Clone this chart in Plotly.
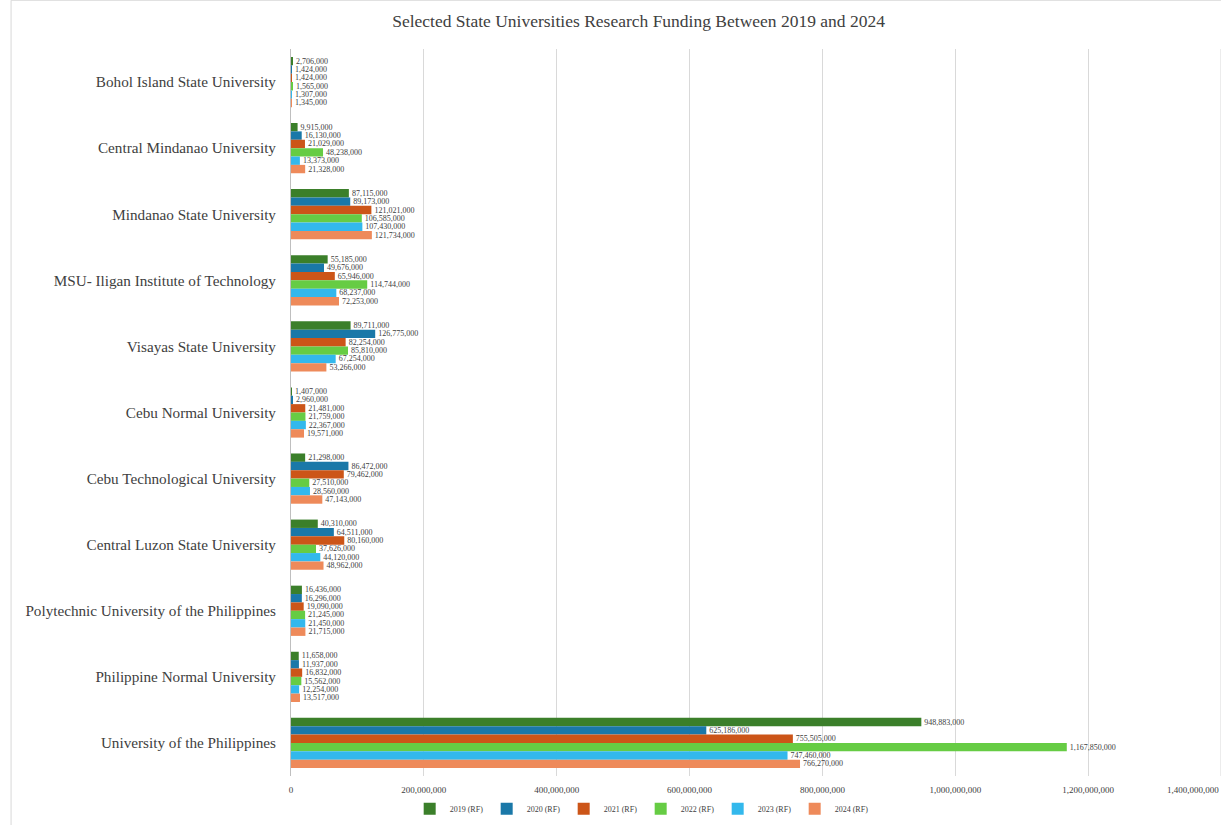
import plotly.graph_objects as go

universities = [
    "Bohol Island State University",
    "Central Mindanao University",
    "Mindanao State University",
    "MSU- Iligan Institute of Technology",
    "Visayas State University",
    "Cebu Normal University",
    "Cebu Technological University",
    "Central Luzon State University",
    "Polytechnic University of the Philippines",
    "Philippine Normal University",
    "University of the Philippines",
]

series_names = ["2019 (RF)", "2020 (RF)", "2021 (RF)", "2022 (RF)", "2023 (RF)", "2024 (RF)"]

funding_2019 = [2706000, 9915000, 87115000, 55185000, 89711000, 1407000, 21298000, 40310000, 16436000, 11658000, 948883000]
funding_2020 = [1424000, 16130000, 89173000, 49676000, 126775000, 2960000, 86472000, 64511000, 16296000, 11937000, 625186000]
funding_2021 = [1424000, 21029000, 121021000, 65946000, 82254000, 21481000, 79462000, 80160000, 19090000, 16832000, 755505000]
funding_2022 = [1565000, 48238000, 106585000, 114744000, 85810000, 21759000, 27510000, 37626000, 21245000, 15562000, 1167850000]
funding_2023 = [1307000, 13373000, 107430000, 68237000, 67254000, 22367000, 28560000, 44120000, 21450000, 12254000, 747460000]
funding_2024 = [1345000, 21328000, 121734000, 72253000, 53266000, 19571000, 47143000, 48962000, 21715000, 13517000, 766270000]

series_values = [funding_2019, funding_2020, funding_2021, funding_2022, funding_2023, funding_2024]
colors = ["#3b7f2a", "#1a78a8", "#cc5518", "#66cc44", "#33b8ec", "#ee8a5a"]

x_ticks = [0, 200000000, 400000000, 600000000, 800000000, 1000000000, 1200000000]
x_max = 1400000000

FONT = "Liberation Serif"
TXT = "#404040"

fig = go.Figure()
for name, vals, col in zip(series_names, series_values, colors):
    fig.add_trace(go.Bar(
        y=universities, x=vals, name=name, orientation="h",
        marker=dict(color=col, line=dict(width=0)),
        text=vals, texttemplate="%{x:,}", textposition="outside",
        textfont=dict(family=FONT, size=8, color=TXT),
        outsidetextfont=dict(family=FONT, size=8, color=TXT),
        constraintext="none", cliponaxis=False,
    ))

fig.update_layout(
    width=1221, height=825,
    margin=dict(l=291, r=0, t=49, b=49),
    paper_bgcolor="white", plot_bgcolor="white",
    barmode="group", bargap=0.24, bargroupgap=0,
    font=dict(family=FONT, color=TXT),
    title=dict(text="Selected State Universities Research Funding Between 2019 and 2024",
               x=0.523, xanchor="center", y=0.975, yanchor="middle",
               font=dict(family=FONT, size=17.5, color=TXT)),
    xaxis=dict(range=[0, x_max], tickvals=x_ticks, tickformat=",",
               showgrid=True, gridcolor="#d9d9d9", gridwidth=1,
               zeroline=False, showline=False, ticks="", ticklabelstandoff=7,
               tickfont=dict(family=FONT, size=9, color=TXT)),
    yaxis=dict(autorange="reversed", showline=True, linecolor="#bfbfbf", linewidth=1,
               ticks="", ticklabelstandoff=11,
               tickfont=dict(family=FONT, size=15.2, color=TXT)),
    legend=dict(orientation="h", x=0.376, xanchor="center", y=-0.045, yanchor="middle",
                font=dict(family=FONT, size=8, color=TXT),
                itemwidth=30, entrywidth=32, entrywidthmode="pixels", tracegroupgap=0),
    annotations=[dict(text=f"{x_max:,}", x=x_max, xref="x", y=0, yref="paper",
                      yshift=-14, showarrow=False, xanchor="right", yanchor="middle",
                      font=dict(family=FONT, size=9, color=TXT))],
    shapes=[dict(type="rect", xref="paper", yref="paper",
                 x0=-0.301, x1=1.01, y0=-0.1, y1=1.067,
                 line=dict(color="#d9d9d9", width=1), layer="below"),
            dict(type="line", xref="x", yref="paper", x0=x_max, x1=x_max, y0=0, y1=1,
                 line=dict(color="#d9d9d9", width=1), layer="below")],
)

fig.write_html("out.html")
